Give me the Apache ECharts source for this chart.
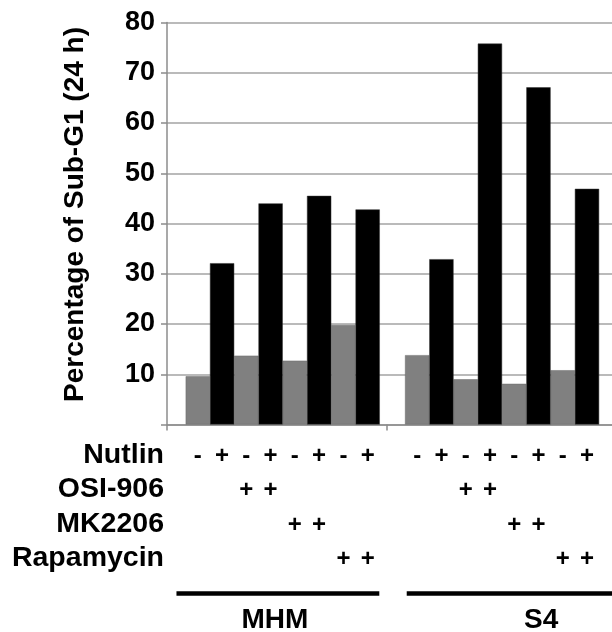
<!DOCTYPE html>
<html>
<head>
<meta charset="utf-8">
<script src="https://cdn.jsdelivr.net/npm/echarts@6/dist/echarts.min.js"></script>
<style>
html,body{margin:0;padding:0;background:#fff;}
#chart{width:612px;height:632px;}
</style>
</head>
<body>
<div id="chart"></div>
<script>
// ---------- data ----------
const groups = ['MHM', 'S4'];
const nutlinMinus = [9.6, 13.7, 12.7, 19.8, 13.8, 9.0, 8.1, 10.8];   // grey bars
const nutlinPlus  = [32.1, 44.0, 45.5, 42.8, 32.9, 75.8, 67.1, 46.9]; // black bars
const rowLabels = ['Nutlin', 'OSI-906', 'MK2206', 'Rapamycin'];
const nutlinSigns = ['-', '+', '-', '+', '-', '+', '-', '+'];
const osiSigns    = ['', '', '+', '+', '', '', '', ''];
const mkSigns     = ['', '', '', '', '+', '+', '', ''];
const rapaSigns   = ['', '', '', '', '', '', '+', '+'];
const yTickValues = [0, 10, 20, 30, 40, 50, 60, 70, 80];
const yTitle = 'Percentage of Sub-G1 (24 h)';

// ---------- layout ----------
const FONT = '"Liberation Sans", Arial, sans-serif';
const GRID_LEFT = 167, GRID_TOP = 22.5, GRID_H = 402, GRID_W = 461;
const X_MAX = 19;
const UNIT = GRID_W / X_MAX;
const GROUP_SPAN = 9.04, BAR_OFFSET = 0.77;
const bracket = [[0.39, 8.75], [9.88, 21]];
const groupLabelPos = [4.45, 15.42];
const rowOffsets = [32, 66, 101, 135];
const groupOffset = 196;
const bracketY = 593.5;
const rowLabelRight = 164;

function barCenter(g, i) { return g * GROUP_SPAN + BAR_OFFSET + i + 0.5; }

const greyData = [], blackData = [];
groups.forEach((gName, g) => {
  for (let k = 0; k < 4; k++) {
    greyData.push([barCenter(g, 2 * k), nutlinMinus[g * 4 + k]]);
    blackData.push([barCenter(g, 2 * k + 1), nutlinPlus[g * 4 + k]]);
  }
});

const signRows = [nutlinSigns, osiSigns, mkSigns, rapaSigns];
function key(v) { return Number(v).toFixed(3); }

const signAxes = signRows.map((row, r) => {
  const lookup = {};
  const vals = [];
  groups.forEach((gName, g) => {
    row.forEach((s, i) => {
      if (s) { const c = barCenter(g, i); lookup[key(c)] = s; vals.push(c); }
    });
  });
  return {
    type: 'value', gridIndex: 0, position: 'bottom', offset: rowOffsets[r],
    min: 0, max: X_MAX,
    axisLine: { show: false }, axisTick: { show: false }, splitLine: { show: false },
    axisLabel: {
      customValues: vals, margin: 0, verticalAlign: 'middle',
      fontFamily: FONT, fontWeight: 'bold', fontSize: 24, color: '#000',
      formatter: v => lookup[key(v)] || ''
    }
  };
});

const groupLookup = {};
groupLabelPos.forEach((p, g) => { groupLookup[key(p)] = groups[g]; });
const groupAxis = {
  type: 'value', gridIndex: 0, position: 'bottom', offset: groupOffset,
  min: 0, max: X_MAX,
  axisLine: { show: false }, axisTick: { show: false }, splitLine: { show: false },
  axisLabel: {
    customValues: groupLabelPos, margin: 0, verticalAlign: 'middle',
    fontFamily: FONT, fontWeight: 'bold', fontSize: 28, color: '#000',
    formatter: v => groupLookup[key(v)] || ''
  }
};

const chart = echarts.init(document.getElementById('chart'), null, { renderer: 'canvas' });

const option = {
  animation: false,
  backgroundColor: '#fff',
  grid: { left: GRID_LEFT, top: GRID_TOP, width: GRID_W, height: GRID_H, containLabel: false, outerBoundsMode: 'none' },
  xAxis: [
    {
      type: 'value', gridIndex: 0, position: 'bottom', min: 0, max: X_MAX,
      axisLine: { show: true, onZero: false, lineStyle: { color: '#8c8c8c', width: 1.5 } },
      axisTick: { show: true, customValues: [0, GROUP_SPAN], length: 6, lineStyle: { color: '#8c8c8c', width: 1.5 } },
      axisLabel: { show: false },
      splitLine: { show: false }
    },
    ...signAxes,
    groupAxis
  ],
  yAxis: {
    type: 'value', min: 0, max: 80, interval: 10,
    name: yTitle, nameLocation: 'middle', nameGap: 78, nameRotate: 90,
    nameTextStyle: { fontFamily: FONT, fontWeight: 'bold', fontSize: 28, color: '#000', padding: [0, 0, 0, 18] },
    axisLine: { show: true, lineStyle: { color: '#8c8c8c', width: 1.5 } },
    axisTick: { show: true, length: 6, lineStyle: { color: '#8c8c8c', width: 1.5 } },
    axisLabel: {
      margin: 12, fontFamily: FONT, fontWeight: 'bold', fontSize: 27, color: '#000',
      customValues: yTickValues,
      formatter: v => (v === 0 ? '' : String(v))
    },
    splitLine: { show: true, lineStyle: { color: '#a3a3a3', width: 1.5 } }
  },
  series: [
    {
      name: 'Nutlin -', type: 'bar', xAxisIndex: 0, yAxisIndex: 0,
      data: greyData, barWidth: UNIT, barGap: '-100%',
      itemStyle: { color: '#808080', borderColor: '#6a6a6a', borderWidth: 0.5 }
    },
    {
      name: 'Nutlin +', type: 'bar', xAxisIndex: 0, yAxisIndex: 0,
      data: blackData, barWidth: UNIT, barGap: '-100%',
      itemStyle: { color: '#000000', borderColor: '#333', borderWidth: 0.5 }
    }
  ]
};
chart.setOption(option);

const baseY = chart.convertToPixel({ yAxisIndex: 0 }, 0);
const graphics = bracket.map(([a, b]) => {
  const x1 = chart.convertToPixel({ xAxisIndex: 0 }, a);
  const x2 = chart.convertToPixel({ xAxisIndex: 0 }, b);
  return { type: 'line', shape: { x1: x1, y1: bracketY, x2: x2, y2: bracketY }, style: { stroke: '#000', lineWidth: 4.5 } };
});
rowLabels.forEach((t, r) => {
  graphics.push({
    type: 'text', x: rowLabelRight, y: baseY + rowOffsets[r] - 1,
    style: { text: t, fill: '#000', font: 'bold 28.5px ' + FONT, textAlign: 'right', textVerticalAlign: 'middle' }
  });
});
chart.setOption({ graphic: graphics });
</script>
</body>
</html>
